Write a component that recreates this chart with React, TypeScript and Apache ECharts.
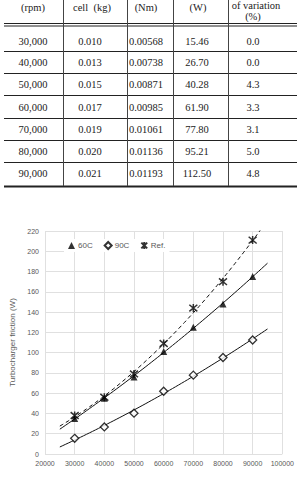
import React, { useEffect, useRef } from "react";
import * as echarts from "echarts";

// Table columns
const speedLabels = ["30,000", "40,000", "50,000", "60,000", "70,000", "80,000", "90,000"];
const massLabels = ["0.010", "0.013", "0.015", "0.017", "0.019", "0.020", "0.021"];
const torqueLabels = ["0.00568", "0.00738", "0.00871", "0.00985", "0.01061", "0.01136", "0.01193"];
const powerLabels = ["15.46", "26.70", "40.28", "61.90", "77.80", "95.21", "112.50"];
const variationLabels = ["0.0", "0.0", "4.3", "3.3", "3.1", "5.0", "4.8"];

// Chart series
const speedsRpm = [30000, 40000, 50000, 60000, 70000, 80000, 90000];
const friction60C = [35, 55, 76, 101, 125, 148, 175];
const friction90C = [15.46, 26.7, 40.28, 61.9, 77.8, 95.21, 112.5];
const frictionRef = [38, 56, 79, 109, 144, 170, 211];
const seriesNames = ["60C", "90C", "Ref."];

const trendFrom = 25000;
const trendTo = 95000;

// Least-squares quadratic fit (x in units of 10,000 rpm)
function quadFit(xs: number[], ys: number[]) {
  const s = [0, 0, 0, 0, 0];
  const t = [0, 0, 0];
  xs.forEach((xr, i) => {
    const x = xr / 10000;
    let p = 1;
    for (let k = 0; k < 5; k++) {
      s[k] += p;
      if (k < 3) t[k] += p * ys[i];
      p *= x;
    }
  });
  const m = [
    [s[0], s[1], s[2], t[0]],
    [s[1], s[2], s[3], t[1]],
    [s[2], s[3], s[4], t[2]],
  ];
  for (let c = 0; c < 3; c++) {
    for (let r = c + 1; r < 3; r++) {
      const f = m[r][c] / m[c][c];
      for (let k = c; k < 4; k++) m[r][k] -= f * m[c][k];
    }
  }
  const coef = [0, 0, 0];
  for (let r = 2; r >= 0; r--) {
    let v = m[r][3];
    for (let k = r + 1; k < 3; k++) v -= m[r][k] * coef[k];
    coef[r] = v / m[r][r];
  }
  return (xr: number) => {
    const x = xr / 10000;
    return coef[0] + coef[1] * x + coef[2] * x * x;
  };
}

function trendPoints(ys: number[]) {
  const f = quadFit(speedsRpm, ys);
  const pts: number[][] = [];
  for (let x = trendFrom; x <= trendTo; x += 1000) pts.push([x, f(x)]);
  return pts;
}

// asterisk-style marker: an X crossed by a vertical stroke
const STAR = "path://M0,0L10,10M10,0L0,10M5,-1L5,11";

export default function App() {
  const ref = useRef<HTMLDivElement>(null);

  useEffect(() => {
    if (!ref.current) return;
    const chart = echarts.init(ref.current, undefined, { renderer: "svg" });

    const serif = "'Liberation Serif', 'DejaVu Serif', serif";
    const textCol = "#222";
    const colX = [33, 90, 146, 197, 253];
    const rowY = [41, 62, 84, 107, 129, 151, 173];
    const sepY = [51.5, 73.5, 95.5, 118.5, 140.5, 162.5];
    const vLines = [63.5, 127.5, 173.5, 228.5];

    const graphic: any[] = [];
    const txt = (x: number, y: number, s: string) =>
      graphic.push({
        type: "text",
        x,
        y,
        style: {
          text: s,
          fill: textCol,
          font: `10.5px ${serif}`,
          textAlign: "center",
          textVerticalAlign: "middle",
        },
      });
    const hl = (y: number, w = 1) =>
      graphic.push({
        type: "line",
        shape: { x1: 4, y1: y, x2: 297, y2: y },
        style: { stroke: "#222", lineWidth: w },
      });

    // header row
    txt(33, 7, "(rpm)");
    txt(92, 7, "cell  (kg)");
    txt(146, 7, "(Nm)");
    txt(198, 7, "(W)");
    txt(256, 5, "of variation");
    txt(253, 16, "(%)");
    hl(23.5);
    hl(26);

    rowY.forEach((y, i) => {
      txt(colX[0], y, speedLabels[i]);
      txt(colX[1], y, massLabels[i]);
      txt(colX[2], y, torqueLabels[i]);
      txt(colX[3], y, powerLabels[i]);
      txt(colX[4], y, variationLabels[i]);
    });
    sepY.forEach((y) => hl(y));
    hl(186.5, 2);
    vLines.forEach((x) =>
      graphic.push({
        type: "line",
        shape: { x1: x, y1: 0, x2: x, y2: 186 },
        style: { stroke: "#444", lineWidth: 1 },
      })
    );

    const sans = "'Liberation Sans', Arial, sans-serif";
    const gray = "#595959";
    const toPts = (ys: number[]) => speedsRpm.map((x, i) => [x, ys[i]]);

    const trend = (ys: number[], dashed: boolean) => ({
      type: "line",
      data: trendPoints(ys),
      showSymbol: false,
      silent: true,
      clip: true,
      lineStyle: { color: "#111", width: 1, type: dashed ? [4, 3] : "solid" },
      z: 2,
    });

    chart.setOption({
      animation: false,
      backgroundColor: "#fff",
      textStyle: { fontFamily: sans },
      graphic,
      grid: { left: 41, right: 11, top: 231, bottom: 24, containLabel: false },
      legend: {
        data: seriesNames,
        left: 64,
        top: 239,
        itemWidth: 7,
        itemHeight: 7,
        itemGap: 11,
        padding: [2, 4, 2, 4],
        backgroundColor: "#fff",
        textStyle: { color: gray, fontSize: 8, fontFamily: sans, padding: [0, 0, 0, -2] },
      },
      xAxis: {
        type: "value",
        min: 20000,
        max: 100000,
        interval: 10000,
        axisLine: { show: false },
        axisTick: { show: false },
        axisLabel: {
          color: gray,
          fontSize: 7,
          margin: 6,
          fontFamily: sans,
          formatter: (v: number) => String(v),
        },
        splitLine: { show: true, lineStyle: { color: "#e0e0e0", width: 1 } },
      },
      yAxis: {
        type: "value",
        min: 0,
        max: 220,
        interval: 20,
        name: "Turbocharger friction (W)",
        nameLocation: "middle",
        nameGap: 29,
        nameTextStyle: { color: gray, fontSize: 8, fontFamily: sans },
        axisLine: { show: false },
        axisTick: { show: false },
        axisLabel: { color: gray, fontSize: 7, margin: 6, fontFamily: sans },
        splitLine: { show: true, lineStyle: { color: "#e0e0e0", width: 1 } },
      },
      series: [
        trend(friction60C, false),
        trend(friction90C, false),
        trend(frictionRef, true),
        {
          name: seriesNames[0],
          type: "scatter",
          data: toPts(friction60C),
          symbol: "triangle",
          symbolSize: 7,
          itemStyle: { color: "#000" },
          z: 4,
        },
        {
          name: seriesNames[1],
          type: "scatter",
          data: toPts(friction90C),
          symbol: "diamond",
          symbolSize: 8,
          itemStyle: { color: "#fff", borderColor: "#000", borderWidth: 1.3 },
          z: 4,
        },
        {
          name: seriesNames[2],
          type: "scatter",
          data: toPts(frictionRef),
          symbol: STAR,
          symbolSize: 8,
          itemStyle: { color: "rgba(0,0,0,0)", borderColor: "#000", borderWidth: 1.5 },
          z: 4,
        },
      ],
    });

    return () => chart.dispose();
  }, []);

  return (
    <div
      ref={ref}
      style={{ position: "absolute", left: 0, top: 0, width: 297, height: 478 }}
    />
  );
}
